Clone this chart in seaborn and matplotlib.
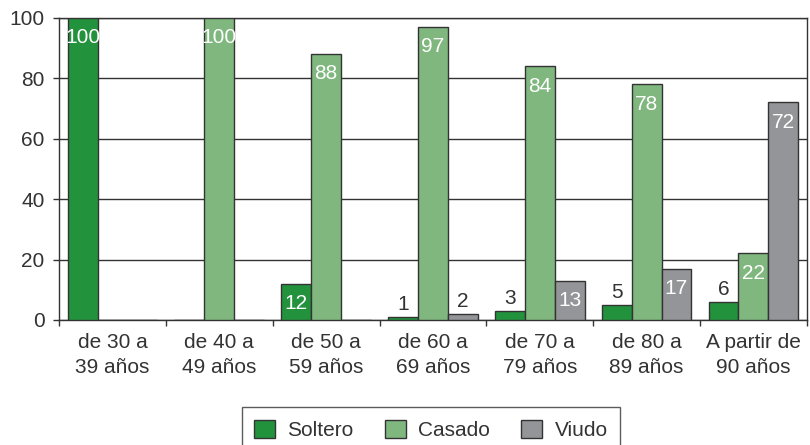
import pandas as pd
import numpy as np
import matplotlib
matplotlib.use("Agg")
import matplotlib.pyplot as plt
import seaborn as sns

# DATA
categories = ["de 30 a\n39 años", "de 40 a\n49 años", "de 50 a\n59 años", "de 60 a\n69 años",
              "de 70 a\n79 años", "de 80 a\n89 años", "A partir de\n90 años"]
series = ["Soltero", "Casado", "Viudo"]
soltero = [100, 0, 12, 1, 3, 5, 6]
casado = [0, 100, 88, 97, 84, 78, 22]
viudo = [0, 0, 0, 2, 13, 17, 72]
colors = ["#23923d", "#7fb77e", "#939598"]

sns.set_style("white")
plt.rcParams["font.family"] = ["Liberation Sans", "DejaVu Sans"]
plt.rcParams["font.size"] = 15
txt = "#333333"
fs = 15

df = pd.DataFrame({"grupo": categories * 3,
                   "estado": np.repeat(series, len(categories)),
                   "pct": soltero + casado + viudo})

fig = plt.figure(figsize=(8.1, 4.45), dpi=100)
ax = fig.add_axes([0.073, 0.281, 0.923, 0.679])
sns.barplot(data=df, x="grupo", y="pct", hue="estado", palette=colors,
            width=0.84, edgecolor="#333333", linewidth=1.0, saturation=1,
            ax=ax, legend=True, zorder=3)

# value labels
for cont, vals in zip(ax.containers, [soltero, casado, viudo]):
    for bar, v in zip(cont, vals):
        if v == 0:
            continue
        x = bar.get_x() + bar.get_width() / 2
        if v >= 10:
            ax.annotate(f"{v}", (x, v), xytext=(0, -7.5), textcoords="offset points",
                        ha="center", va="top", color="white", fontsize=fs, zorder=5)
        else:
            ax.annotate(f"{v}", (x, v), xytext=(0, 2), textcoords="offset points",
                        ha="center", va="bottom", color=txt, fontsize=fs, zorder=5)

ax.set_ylim(0, 100)
ax.set_xlim(-0.5, len(categories) - 0.5)
ax.set_yticks(range(0, 101, 20))
ax.yaxis.grid(True, color="#333333", linewidth=1.0, zorder=0)
ax.set_axisbelow(True)
ax.set_xlabel("")
ax.set_ylabel("")
for s in ax.spines.values():
    s.set_color("#333333")
    s.set_linewidth(1.0)

ax.tick_params(axis="y", which="major", left=True, length=4.5, width=1, color="#333333",
               labelsize=fs, pad=6, labelcolor=txt)
ax.tick_params(axis="x", which="major", bottom=False, labelsize=fs, pad=6, labelcolor=txt)
ax.set_xticks(np.arange(-0.5, len(categories), 1.0), minor=True)
ax.tick_params(axis="x", which="minor", bottom=True, length=4.5, width=1, color="#333333")
for tick in ax.xaxis.get_major_ticks():
    tick.label1.set_linespacing(1.4)

handles, labels = ax.get_legend_handles_labels()
ax.get_legend().remove()
leg = fig.legend(handles, labels, loc="center", bbox_to_anchor=(0.532, 0.034), ncol=3,
                 frameon=True, fancybox=False, edgecolor="#333333", fontsize=fs,
                 handlelength=1.0, handleheight=1.0, columnspacing=1.5, handletextpad=0.6,
                 borderpad=0.6, labelcolor=txt)
leg.get_frame().set_linewidth(1.0)

fig.savefig("out.png", dpi=100)
